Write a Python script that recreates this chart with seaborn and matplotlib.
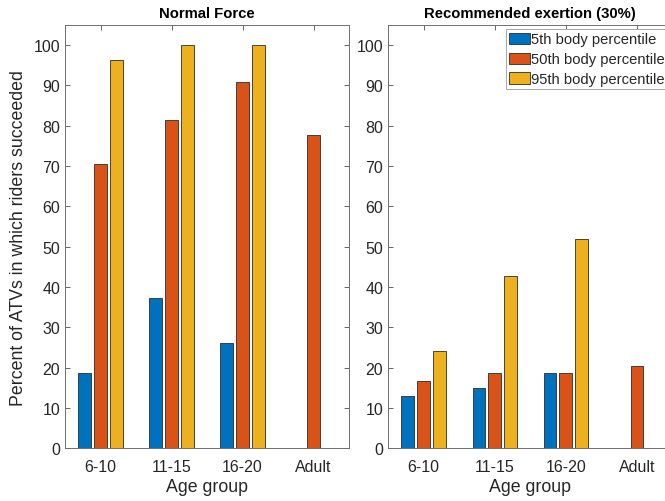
import numpy as np
import pandas as pd
import matplotlib
matplotlib.use("Agg")
import matplotlib.pyplot as plt
import seaborn as sns

# Age groups and rider body percentiles
age_groups = ["6-10", "11-15", "16-20", "Adult"]
percentiles = ["5th body percentile", "50th body percentile", "95th body percentile"]

# Percent of ATVs in which riders succeeded (NaN = not tested)
normal_5th = [18.6, 37.2, 26.1, np.nan]
normal_50th = [70.4, 81.5, 90.8, 77.8]
normal_95th = [96.4, 100.0, 100.0, np.nan]

exertion_5th = [13.0, 14.9, 18.6, np.nan]
exertion_50th = [16.8, 18.6, 18.6, 20.5]
exertion_95th = [24.2, 42.8, 51.8, np.nan]

panel_titles = ["Normal Force", "Recommended exertion (30%)"]
y_ticks = list(range(0, 101, 10))

colors = ["#0072BD", "#D95319", "#EDB120"]


def long_form(series):
    rows = []
    for pct, vals in zip(percentiles, series):
        for grp, v in zip(age_groups, vals):
            if not np.isnan(v):
                rows.append({"Age group": grp, "Percentile": pct, "Value": v})
    return pd.DataFrame(rows)


df_normal = long_form([normal_5th, normal_50th, normal_95th])
df_exert = long_form([exertion_5th, exertion_50th, exertion_95th])

sns.set_theme(style="white")
plt.rcParams["font.family"] = ["Liberation Sans", "DejaVu Sans"]
text_color = "#262626"

fig = plt.figure(figsize=(6.65, 5.02), dpi=100)
ax1 = fig.add_axes([65 / 665, 1 - 449.3 / 502, 284 / 665, (449.3 - 26) / 502])
ax2 = fig.add_axes([388 / 665, 1 - 449.3 / 502, 284.5 / 665, (449.3 - 26) / 502])

for ax, df, title, show_legend in [(ax1, df_normal, panel_titles[0], False),
                                   (ax2, df_exert, panel_titles[1], True)]:
    sns.barplot(data=df, x="Age group", y="Value", hue="Percentile",
                order=age_groups, hue_order=percentiles, palette=colors,
                width=0.667, gap=0.2, errorbar=None, saturation=1,
                edgecolor="#2b2b2b", linewidth=0.6, legend=show_legend, ax=ax)
    ax.set_xlim(-0.5, 3.5)
    ax.set_ylim(0, 105)
    ax.set_yticks(y_ticks)
    ax.set_xlabel("Age group", fontsize=12.8, color=text_color, labelpad=3)
    ax.set_ylabel("")
    ax.set_title(title, fontsize=10.7, fontweight="bold", color="black", pad=5.5)
    ax.tick_params(axis="both", which="both", direction="in", length=3.5,
                   width=0.6, color="#4d4d4d", labelsize=11.5,
                   labelcolor=text_color, top=True, right=True,
                   bottom=True, left=True)
    ax.tick_params(axis="x", pad=7.5)
    ax.tick_params(axis="y", pad=3.5)
    for sp in ax.spines.values():
        sp.set_visible(True)
        sp.set_color("#6e6e6e")
        sp.set_linewidth(0.7)

ax1.set_ylabel("Percent of ATVs in which riders succeeded", fontsize=12.8,
               color=text_color, labelpad=5)

sns.move_legend(ax2, "upper right", title=None, fontsize=10.6,
                frameon=True, fancybox=False, edgecolor="#9a9a9a",
                framealpha=1, borderpad=0.2, labelspacing=0.4,
                handlelength=1.45, handleheight=0.8, handletextpad=0.08,
                borderaxespad=0.3)
ax2.get_legend().get_frame().set_linewidth(0.6)

fig.savefig("out.png", dpi=100)
